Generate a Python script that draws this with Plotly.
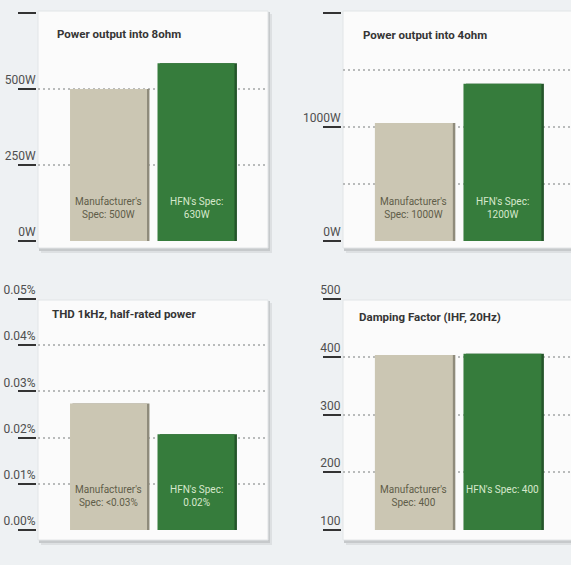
import plotly.graph_objects as go

# ---------------- data ----------------
categories = ["Manufacturer's", "HFN's"]

titles = ["Power output into 8ohm", "Power output into 4ohm",
          "THD 1kHz, half-rated power", "Damping Factor (IHF, 20Hz)"]

power_8ohm = [500, 585]
power_4ohm = [1035, 1380]
thd_pct = [0.0274, 0.0207]
damping = [403, 405]

labels_8ohm = ["Manufacturer's<br>Spec: 500W", "HFN's Spec:<br>630W"]
labels_4ohm = ["Manufacturer's<br>Spec: 1000W", "HFN's Spec:<br>1200W"]
labels_thd = ["Manufacturer's<br>Spec: <0.03%", "HFN's Spec:<br>0.02%"]
labels_damp = ["Manufacturer's<br>Spec: 400", "HFN's Spec: 400"]

ticks_8ohm = [0, 250, 500, 750]
ticktext_8ohm = ["0W", "250W", "500W", ""]
grid_8ohm = [0, 250, 500]

ticks_4ohm = [0, 1000, 2000]
ticktext_4ohm = ["0W", "1000W", ""]
grid_4ohm = [0, 500, 1000, 1500]

ticks_thd = [0, 0.01, 0.02, 0.03, 0.04, 0.05]
ticktext_thd = ["0.00%", "0.01%", "0.02%", "0.03%", "0.04%", "0.05%"]
grid_thd = [0, 0.01, 0.02, 0.03, 0.04]

ticks_damp = [100, 200, 300, 400, 500]
ticktext_damp = ["100", "200", "300", "400", "500"]
grid_damp = [100, 200, 300, 400]

# ---------------- style ----------------
FW, FH = 571, 565
BG = "#eef1f3"
BOX = "#fbfbfb"
BEIGE = "#cbc6b3"
BEIGE_DARK = "#8f8b7b"
GREEN = "#367c3c"
GREEN_DARK = "#24552a"
FONT = "Roboto, Liberation Sans, Arial, sans-serif"
BAR_W = 0.88


def px(x):
    return x / FW


def py(y):
    return 1 - y / FH


panels = [
    dict(v=power_8ohm, lab=labels_8ohm, t=ticks_8ohm, tt=ticktext_8ohm, g=grid_8ohm,
         r=[0, 750], xr=[-0.806, 1.823], area=(38, 268, 13, 241), box=(38, 268, 11, 248),
         tpos=(55, 34), axpos=36),
    dict(v=power_4ohm, lab=labels_4ohm, t=ticks_4ohm, tt=ticktext_4ohm, g=grid_4ohm,
         r=[0, 2000], xr=[-0.80, 1.774], area=(343, 571, 13, 241), box=(343, 580, 11, 248),
         tpos=(361, 35), axpos=341),
    dict(v=thd_pct, lab=labels_thd, t=ticks_thd, tt=ticktext_thd, g=grid_thd,
         r=[0, 0.05], xr=[-0.806, 1.823], area=(38, 268, 299, 530), box=(38, 268, 300, 540),
         tpos=(50, 314), axpos=36),
    dict(v=damping, lab=labels_damp, t=ticks_damp, tt=ticktext_damp, g=grid_damp,
         r=[100, 500], xr=[-0.80, 1.774], area=(343, 571, 299, 530), box=(343, 580, 300, 540),
         tpos=(357, 317), axpos=341),
]

fig = go.Figure()
layout = dict(
    width=FW, height=FH, margin=dict(l=0, r=0, t=0, b=0, autoexpand=False),
    paper_bgcolor=BG, plot_bgcolor="rgba(0,0,0,0)",
    showlegend=False, font=dict(family=FONT), barmode="overlay",
)
shapes = []
annotations = []

for i, p in enumerate(panels, start=1):
    xa = "x" if i == 1 else f"x{i}"
    ya = "y" if i == 1 else f"y{i}"
    x0, x1, yt, yb = p["area"]
    bx0, bx1, by0, by1 = p["box"]

    # frame shadow + box
    shapes.append(dict(type="rect", xref="paper", yref="paper", layer="below",
                       x0=px(bx0 + 3), x1=px(bx1 + 4), y0=py(by1 + 5), y1=py(by0 + 3),
                       fillcolor="#dde0e2", line=dict(width=0)))
    shapes.append(dict(type="rect", xref="paper", yref="paper", layer="below",
                       x0=px(bx0 + 1), x1=px(bx1 + 2), y0=py(by1 + 3), y1=py(by0 + 1),
                       fillcolor="#c6c9cb", line=dict(width=0)))
    shapes.append(dict(type="rect", xref="paper", yref="paper", layer="below",
                       x0=px(bx0), x1=px(bx1), y0=py(by1), y1=py(by0),
                       fillcolor=BOX, line=dict(color="#e2e5e7", width=1)))

    # bar shadow (dark right edge) then bar
    fig.add_trace(go.Bar(
        x=categories, y=p["v"], xaxis=xa, yaxis=ya, width=BAR_W,
        offset=-BAR_W / 2 + 0.028,
        marker=dict(color=[BEIGE_DARK, GREEN_DARK], line=dict(width=0)),
        hoverinfo="skip",
    ))
    fig.add_trace(go.Bar(
        x=categories, y=p["v"], xaxis=xa, yaxis=ya, width=BAR_W,
        offset=-BAR_W / 2,
        marker=dict(color=[BEIGE, GREEN], line=dict(width=0)),
        hoverinfo="skip",
    ))

    layout["xaxis" + ("" if i == 1 else str(i))] = dict(
        domain=[px(x0), min(1, px(x1))], anchor=ya, range=p["xr"], visible=False,
        fixedrange=True,
    )
    layout["yaxis" + ("" if i == 1 else str(i))] = dict(
        domain=[py(yb), py(yt)], anchor=xa, range=p["r"],
        tickmode="array", tickvals=p["g"], showticklabels=False, ticks="",
        showgrid=True, gridcolor="#b9bbbb", griddash="2px,3px", gridwidth=1.5,
        zeroline=False, showline=False, fixedrange=True, automargin=False,
    )
    # label axis (overlay) carrying tick labels above underline ticks
    layout[f"yaxis{i + 4}"] = dict(
        overlaying=ya, anchor="free", position=px(p["axpos"]), side="left",
        range=p["r"], tickmode="array", tickvals=p["t"], ticktext=p["tt"],
        ticks="outside", ticklen=18, tickwidth=2, tickcolor="#333333",
        ticklabelstandoff=-20, ticklabelshift=-9,
        tickfont=dict(family=FONT, size=12, color="#4f4f4f"),
        showgrid=False, zeroline=False, showline=False, fixedrange=True,
        automargin=False,
    )
    fig.add_trace(go.Scatter(x=[None], y=[None], xaxis=xa, yaxis=f"y{i + 4}",
                             hoverinfo="skip", showlegend=False))

    # title
    tx, ty = p["tpos"]
    annotations.append(dict(xref="paper", yref="paper", x=px(tx), y=py(ty),
                            xanchor="left", yanchor="middle", showarrow=False,
                            text="<b>" + titles[i - 1] + "</b>",
                            font=dict(family=FONT, size=11.5, color="#353535")))
    # bar labels
    for j, c in enumerate(categories):
        annotations.append(dict(
            xref=xa, yref=ya + " domain", x=c, y=0.207, xanchor="center", yanchor="top",
            showarrow=False, text=p["lab"][j], align="center",
            font=dict(family=FONT, size=10, color="#5f5d49" if j == 0 else "#d6e8cc"),
        ))

layout["shapes"] = shapes
layout["annotations"] = annotations
fig.update_layout(**layout)
fig.write_html(
    "out.html",
    config={"displayModeBar": False},
    post_script="document.body.style.margin='0px';document.body.style.overflow='hidden';"
                "document.body.style.background='" + BG + "';",
)
